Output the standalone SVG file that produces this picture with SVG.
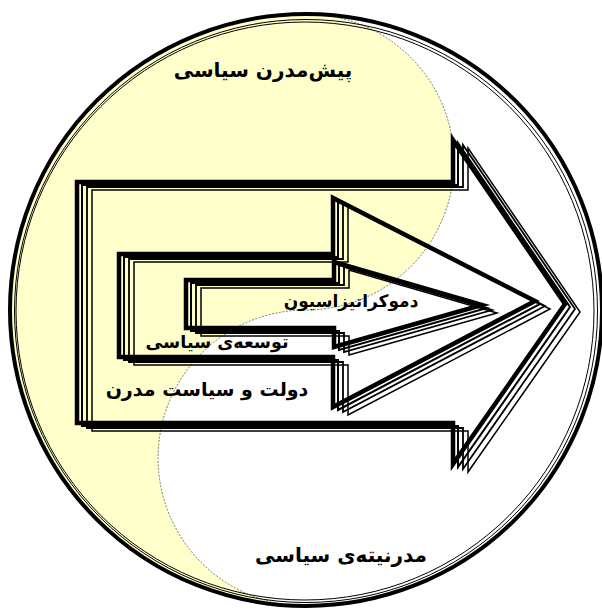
<svg xmlns="http://www.w3.org/2000/svg" xmlns:xlink="http://www.w3.org/1999/xlink" width="602" height="609" viewBox="0 0 602 609">
<style>
.bg{fill:#ffffff}
.yin{fill:#ffffcc;stroke:none}
.seam{fill:none;stroke:#777777;stroke-width:1;stroke-dasharray:2 1.5}
.ring{fill:none;stroke:#000000}
.ar{fill:none;stroke:#000000;stroke-linejoin:miter;stroke-miterlimit:10}
.c0{stroke-width:4.5}
.c1{stroke-width:2}
.c2{stroke-width:1.8}
.c3{stroke-width:1.5}
.lbl{font-family:"DejaVu Sans","Noto Sans",sans-serif;font-weight:bold;fill:#000000;text-anchor:middle}
.big{font-size:20px}
.mid{font-size:17px}
</style>
<defs>
<path id="a1" d="M77,182 H453 V140 L565,304 L453,464 V423 H77 Z"/>
<path id="a2" d="M119,254 H333 V198 L535,301 L333,407 V357 H119 Z"/>
<path id="a3" d="M186,280 H334 V262 L482,305 L334,347 V328 H186 Z"/>
</defs>
<rect class="bg" x="0" y="0" width="602" height="609"/>
<g id="background">
<path class="yin" d="M306,14 A148,148 0 0 1 306,310 A148,148 0 0 0 306,606 A296,296 0 0 1 306,14 Z"/>
<path class="seam" d="M306,14 A148,148 0 0 1 306,310 A148,148 0 0 0 306,606"/>
<circle class="ring" cx="306" cy="310" r="296" stroke-width="4"/>
<circle class="ring" cx="306" cy="311" r="291.5" stroke-width="1"/>
<circle class="ring" cx="305" cy="311" r="289" stroke-width="1"/>
</g>
<g id="connectors"></g>
<g id="node-state-modern-politics">
<use xlink:href="#a1" class="ar c0"/>
<use xlink:href="#a1" class="ar c1" transform="translate(5,3)"/>
<use xlink:href="#a1" class="ar c2" transform="translate(10,5)"/>
<use xlink:href="#a1" class="ar c3" transform="translate(15,8)"/>
<text class="lbl" x="207" y="396" font-size="19">دولت و سیاست مدرن</text>
</g>
<g id="node-political-development">
<use xlink:href="#a2" class="ar c0"/>
<use xlink:href="#a2" class="ar c1" transform="translate(5,3)"/>
<use xlink:href="#a2" class="ar c2" transform="translate(10,5)"/>
<use xlink:href="#a2" class="ar c3" transform="translate(15,8)"/>
<text class="lbl" x="217" y="348" font-size="17.5">توسعه‌ی سیاسی</text>
</g>
<g id="node-democratization">
<use xlink:href="#a3" class="ar c0"/>
<use xlink:href="#a3" class="ar c1" transform="translate(5,3)"/>
<use xlink:href="#a3" class="ar c2" transform="translate(10,5)"/>
<use xlink:href="#a3" class="ar c3" transform="translate(15,8)"/>
<text class="lbl mid" x="351" y="307">دموکراتیزاسیون</text>
</g>
<g id="node-premodern">
<text class="lbl big" x="263" y="77">پیش‌مدرن سیاسی</text>
</g>
<g id="node-modernity">
<text class="lbl big" x="341" y="562">مدرنیته‌ی سیاسی</text>
</g>
</svg>
